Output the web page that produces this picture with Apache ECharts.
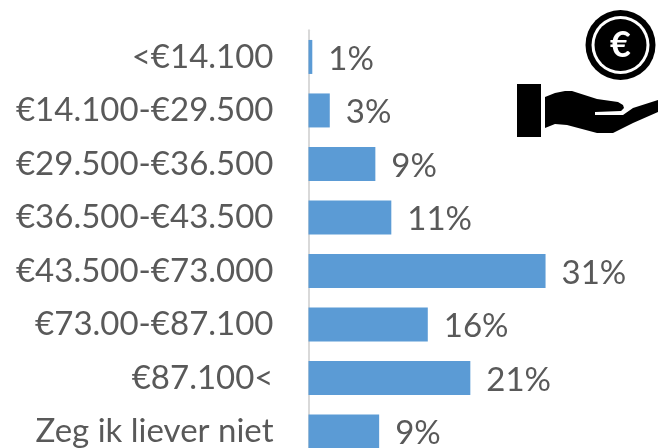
<!DOCTYPE html>
<html><head><meta charset="utf-8">
<style>html,body{margin:0;padding:0;background:#fff;overflow:hidden;height:448px}#c{width:658px;height:470px}</style>
<script src="https://cdn.jsdelivr.net/npm/echarts@6/dist/echarts.min.js"></script></head>
<body><div id="c"></div>
<script>
const categories=['<€14.100','€14.100-€29.500','€29.500-€36.500','€36.500-€43.500','€43.500-€73.000','€73.00-€87.100','€87.100<','Zeg ik liever niet'];
const values=[0.5,2.8,8.8,10.9,31.2,15.7,21.3,9.3];
const shown=['1%','3%','9%','11%','31%','16%','21%','9%'];
const chart=echarts.init(document.getElementById('c'),null,{renderer:'canvas'});
chart.setOption({
 animation:false,
 grid:{left:308.5,top:30.2,width:349.5,height:428,containLabel:false},
 xAxis:{type:'value',min:0,max:46,show:false},
 yAxis:{type:'category',inverse:true,data:categories,
  axisLine:{show:true,lineStyle:{color:'#d9d9d9',width:2}},axisTick:{show:false},
  axisLabel:{fontFamily:'Lato',fontSize:33,color:'#595959',margin:35}},
 series:[{type:'bar',data:values,barWidth:34,itemStyle:{color:'#5b9bd5'},
  label:{show:true,position:'right',distance:16,offset:[0,2],fontFamily:'Lato',fontSize:33,color:'#595959',
   formatter:p=>shown[p.dataIndex]}}],
 graphic:[
  {type:'circle',shape:{cx:620.5,cy:45,r:35},style:{fill:'#000'}},
  {type:'circle',shape:{cx:620.5,cy:45,r:29},style:{fill:'#fff'}},
  {type:'circle',shape:{cx:620.5,cy:45,r:26},style:{fill:'#000'}},
  {type:'text',style:{text:'€',x:620.5,y:45,align:'center',verticalAlign:'middle',fontSize:36,fontWeight:'bold',fontFamily:'Lato',fill:'#fff'}},
  {type:'rect',shape:{x:517,y:84,width:24,height:53},style:{fill:'#000'}},
  {type:'polygon',shape:{points:[[545,97],[555,93],[565,91],[572,91],[597,99],[618,102],[623,105],[624,108],[621,111],[595,112],[595,115],[623,115],[633,108],[658,100],[658,112],[633,123],[613,133],[597,133],[567,125],[555,124],[545,128]]},style:{fill:'#000'}}
 ]
});
</script></body></html>
